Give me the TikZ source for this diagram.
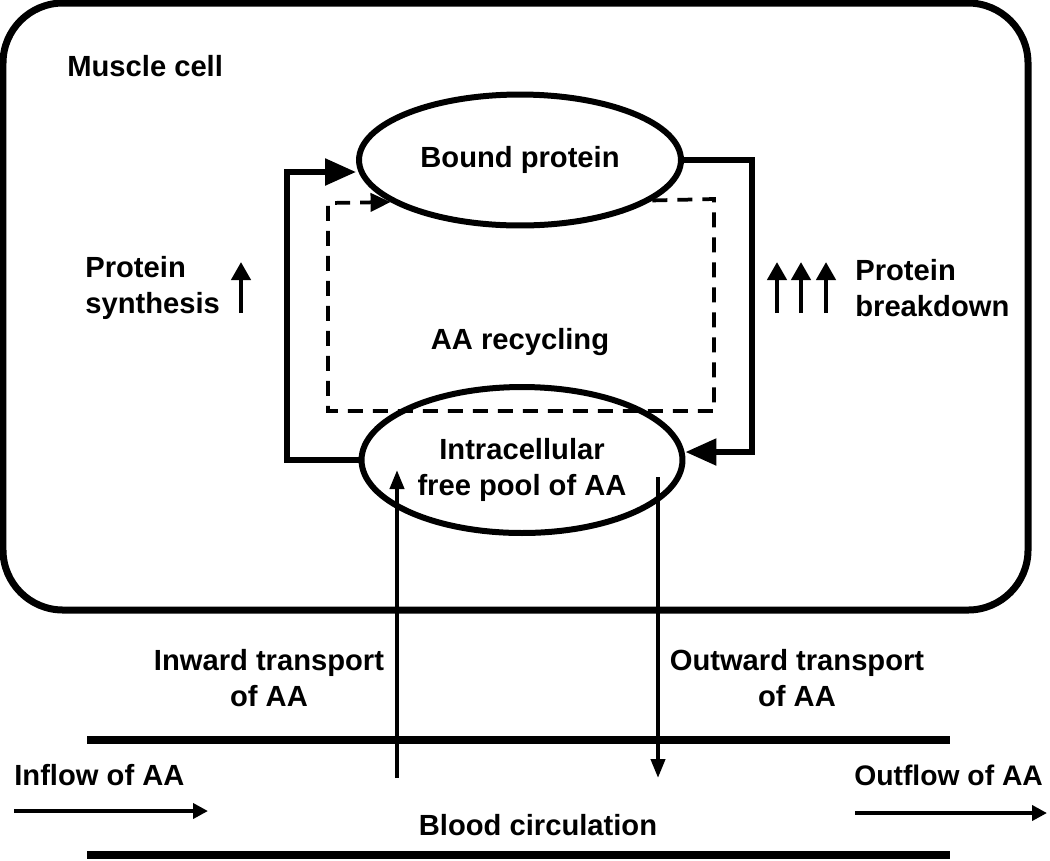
\documentclass[tikz,border=0pt]{standalone}
\usepackage{fontspec}
\setmainfont{Liberation Sans}
\usetikzlibrary{arrows.meta,shapes.geometric}
\tikzset{
  pool/.style={ellipse,draw,line width=0.12cm,inner sep=0pt},
  loopline/.style={line width=0.11cm,-{Triangle[length=0.62cm,width=0.52cm]}},
  recycle/.style={line width=0.075cm,dash pattern=on 0.3cm off 0.2cm,
    -{Triangle[length=0.4cm,width=0.36cm]}},
  transport/.style={line width=0.08cm,-{Triangle[length=0.38cm,width=0.28cm]}},
  rate/.style={line width=0.085cm,-{Triangle[length=0.36cm,width=0.38cm]}},
  flow/.style={line width=0.075cm,-{Triangle[length=0.3cm,width=0.3cm]}},
  vessel/.style={line width=0.15cm},
  lbl/.style={anchor=west,inner sep=0pt,align=left}
}

\begin{document}
\begin{tikzpicture}[x=0.02cm,y=-0.02cm,font=\bfseries\fontsize{16.6}{20}\selectfont]
  \useasboundingbox (0,0) rectangle (1050,860);

  % muscle cell
  \draw[line width=0.14cm,rounded corners=1.2cm] (3,3) rectangle (1028,610);
  \node[lbl] (cell) at (67,66) {Muscle cell};

  \node[pool,minimum width=6.44cm,minimum height=2.62cm] (bound) at (520,160) {Bound protein};
  \node[pool,minimum width=6.42cm,minimum height=2.92cm] (free) at (522,460) {};
  \node[align=center] (freetxt) at (522,470) {Intracellular\\free pool of AA};

  \coordinate (sl) at (287,172);
  \coordinate (br) at (752,452);
  \draw[loopline] (free.west) -| (sl) -- (bound.west |- sl);
  \draw[loopline] (bound.east) -| (br) -- (free.east |- br);

  % recycling loop
  \coordinate (rt) at (714,199);
  \coordinate (rb) at (328,411);
  \coordinate (rl) at (328,203);
  \draw[recycle] (bound.-17) -- (rt) |- (rb) -- (rl) -- (bound.198);
  \node (recyc) at (520,342) {AA recycling};

  % synthesis and breakdown
  \node[lbl] (synth) at (85,288) {Protein\\synthesis};
  \node[lbl] (brk) at (855,288) {Protein\\breakdown};
  \draw[rate] (241,313) -- (241,262);
  \foreach \x in {777,801,826}
    \draw[rate] (\x,313) -- (\x,262);

  % transport
  \coordinate (inb) at (397,778);
  \coordinate (ina) at (397,470);
  \coordinate (outa) at (658,477);
  \coordinate (outb) at (658,778);
  \draw[transport] (inb) -- (ina);
  \draw[transport] (outa) -- (outb);
  \node[align=center] (inw) at (269,678) {Inward transport\\of AA};
  \node[align=center] (outw) at (797,678) {Outward transport\\of AA};

  % blood circulation
  \draw[vessel] (87,740) -- (950,740);
  \draw[vessel] (87,855) -- (950,855);
  \node[lbl] (inflow) at (14,775) {Inflow of AA};
  \node[lbl,font=\bfseries\fontsize{16.1}{20}\selectfont] (outflow) at (854,775) {Outflow of AA};
  \node (blood) at (538,825) {Blood circulation};
  \coordinate (fa) at (14,811);
  \coordinate (fb) at (208,811);
  \coordinate (ga) at (855,813);
  \coordinate (gb) at (1047,813);
  \draw[flow] (fa) -- (fb);
  \draw[flow] (ga) -- (gb);
\end{tikzpicture}
\end{document}
